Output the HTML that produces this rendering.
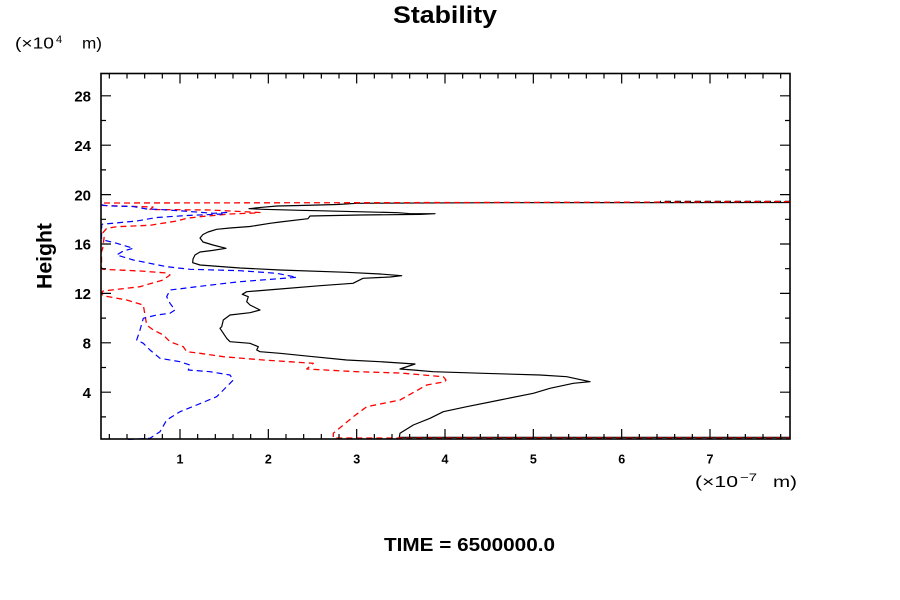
<!DOCTYPE html>
<html>
<head>
<meta charset="utf-8">
<style>
html,body{margin:0;padding:0;background:#fff;}
svg{display:block;}
text{font-family:"Liberation Sans",Arial,sans-serif;fill:#000;}
</style>
</head>
<body>
<svg width="900" height="600" viewBox="0 0 900 600" xmlns="http://www.w3.org/2000/svg">
<rect x="0" y="0" width="900" height="600" fill="#fff"/>

<!-- Title -->
<text x="393" y="23" font-size="24" font-weight="bold" textLength="104" lengthAdjust="spacingAndGlyphs">Stability</text>

<!-- y unit -->
<text x="15" y="48.5" font-size="16" textLength="39" lengthAdjust="spacingAndGlyphs">(×10</text>
<text x="56" y="43" font-size="11">4</text>
<text x="82" y="48.5" font-size="16" textLength="20" lengthAdjust="spacingAndGlyphs">m)</text>

<!-- x unit -->
<text x="695" y="487" font-size="16" textLength="43" lengthAdjust="spacingAndGlyphs">(×10</text>
<text x="740" y="481" font-size="11" textLength="17" lengthAdjust="spacingAndGlyphs">−7</text>
<text x="773" y="487" font-size="16" textLength="24" lengthAdjust="spacingAndGlyphs">m)</text>

<!-- Height label -->
<text transform="translate(51.5,289) rotate(-90)" x="0" y="0" font-size="21" font-weight="bold" textLength="66" lengthAdjust="spacingAndGlyphs">Height</text>

<!-- TIME -->
<text x="384" y="551" font-size="18" font-weight="bold" textLength="171" lengthAdjust="spacingAndGlyphs">TIME = 6500000.0</text>

<!-- y tick labels -->
<g font-size="15" font-weight="bold" text-anchor="end">
<text x="91" y="101.5">28</text>
<text x="91" y="150.9">24</text>
<text x="91" y="200.3">20</text>
<text x="91" y="249.7">16</text>
<text x="91" y="299.1">12</text>
<text x="91" y="348.5">8</text>
<text x="91" y="397.9">4</text>
</g>

<!-- x tick labels -->
<g font-size="12.5" font-weight="bold" text-anchor="middle">
<text x="180" y="463.5">1</text>
<text x="268.33" y="463.5">2</text>
<text x="356.67" y="463.5">3</text>
<text x="445" y="463.5">4</text>
<text x="533.33" y="463.5">5</text>
<text x="621.67" y="463.5">6</text>
<text x="710" y="463.5">7</text>
</g>

<!-- curves -->
<g fill="none" stroke-linejoin="round">
<!-- black solid -->
<polyline stroke="#000" stroke-width="1.2" points="790,202.5 500,202.7 357,203.3 337,204.5 300,205.5 277,206 262,207.3 249,208.7 263,209.3 300,210.3 317,210.7 357,211.7 398,212.7 410,213.7 435,213.7 420,214.4 360,215 310,216 308,218.7 280,222 270,223.3 250,226.5 230,228 216.7,229.3 208,232 203,234.5 200,238 203,242 213,245 226,248.3 212,250.5 200,252 195,255 193,259 192.7,262.7 200,265 240,268 280,270 346.7,272.3 380,274 401.7,275.7 390,277 363,278.3 353,283.3 320,285.7 280,289 246.7,291.7 242.3,294.3 248.3,296.7 246.7,301.7 250,305 260,310 250,312.7 230,315 223.3,320 221.7,326.7 220,328.3 226.7,338.3 230,341.7 250,343.3 258.3,346.7 256.7,350 260,351.7 280,353.3 313.3,356.7 346.7,360 380,361.7 415,364 400,369 413.3,370 433,371.7 483.3,373.3 540,375 566.7,376.7 590,381.7 573.3,383.3 550,388.3 533.3,393.3 500,400 466.7,406.7 443.3,411.7 430,418.3 413.3,425 400,433.3 399.3,437.3 790,437.3"/>
<!-- black dashed top-right -->
<polyline stroke="#000" stroke-width="1.2" stroke-dasharray="6 4" stroke-dashoffset="5" points="660,201.4 790,201.4"/>

<!-- red dashed -->
<polyline stroke="#f00" stroke-width="1.3" stroke-dasharray="6 4" points="790,201.6 623,202.2 357,202.7 101.5,203 103,205.5 153,207 150,209.5 210,210 230,211 260,212.5 256.7,212.9 230,214 200,216.7 186.7,218.3 176.7,221 150,225.3 117,226.7 106.7,228.3 103,232.7 104.3,236 102.7,248.3 101.5,251.7 101.5,268 103,269.3 140,271 166.7,273 170,275 163,280 140,286.7 103,291 101.5,293.5 103,295.7 126.7,300 143.3,305 145,315 146.7,325 153.3,330 163.3,335 170,341.7 183.3,346.7 186.7,351.7 200,353.3 223.3,356.7 263.3,360 313.3,363.3 306.7,369 356.7,371.7 400,373 443.3,376.7 446,380 445,381.7 426.7,385 400,400 366.7,406.7 353.3,416.7 333.3,433.3 333.3,438 790,438"/>

<!-- blue dashed -->
<polyline stroke="#00f" stroke-width="1.2" stroke-dasharray="6 4" points="101.5,205 110,206 133,206.5 146.7,209 160,209.5 183,211 213.3,213.3 226.7,212.5 223,214 186.7,215.5 156.7,217.5 136.7,221 101.7,224.3 101.5,238 103.3,240 116.7,243.3 133.3,248.3 123.3,251 116.7,255 133.3,260 166.7,266.7 190,269.3 240,270.7 276.7,273.3 296.7,277.3 240,281.7 206.7,285.5 170,290 166.7,296.7 170,303.3 175,310 170,313.3 156.7,315 143.3,318.3 140,330 136.7,340 143.3,343.3 150,350 160,358.3 180,361.7 190,365 188.3,370 210,371.7 230,375 233.3,380 216.7,396.7 196.7,405 180,411.7 166.7,420 160,431.7 150,438.3 126.7,439.5"/>
</g>

<!-- frame -->
<rect x="101" y="73.5" width="689" height="365.5" fill="none" stroke="#000" stroke-width="1.6"/>

<!-- ticks -->
<path fill="none" stroke="#000" stroke-width="1.2" d="
M109.33 439V434M127 439V434M144.67 439V434M162.33 439V434M197.67 439V434M215.33 439V434M233 439V434M250.67 439V434M286 439V434M303.67 439V434M321.33 439V434M339 439V434M374.33 439V434M392 439V434M409.67 439V434M427.33 439V434M462.67 439V434M480.33 439V434M498 439V434M515.67 439V434M551 439V434M568.67 439V434M586.33 439V434M604 439V434M639.33 439V434M657 439V434M674.67 439V434M692.33 439V434M727.67 439V434M745.33 439V434M763 439V434M780.67 439V434
M180 439V429M268.33 439V429M356.67 439V429M445 439V429M533.33 439V429M621.67 439V429M710 439V429
M109.33 73.5V78.5M127 73.5V78.5M144.67 73.5V78.5M162.33 73.5V78.5M197.67 73.5V78.5M215.33 73.5V78.5M233 73.5V78.5M250.67 73.5V78.5M286 73.5V78.5M303.67 73.5V78.5M321.33 73.5V78.5M339 73.5V78.5M374.33 73.5V78.5M392 73.5V78.5M409.67 73.5V78.5M427.33 73.5V78.5M462.67 73.5V78.5M480.33 73.5V78.5M498 73.5V78.5M515.67 73.5V78.5M551 73.5V78.5M568.67 73.5V78.5M586.33 73.5V78.5M604 73.5V78.5M639.33 73.5V78.5M657 73.5V78.5M674.67 73.5V78.5M692.33 73.5V78.5M727.67 73.5V78.5M745.33 73.5V78.5M763 73.5V78.5M780.67 73.5V78.5
M180 73.5V83.5M268.33 73.5V83.5M356.67 73.5V83.5M445 73.5V83.5M533.33 73.5V83.5M621.67 73.5V83.5M710 73.5V83.5
M101 392.2H111M101 342.8H111M101 293.4H111M101 244H111M101 194.6H111M101 145.2H111M101 95.8H111
M101 416.9H106M101 367.5H106M101 318.1H106M101 268.7H106M101 219.3H106M101 169.9H106M101 120.5H106
M790 392.2H780M790 342.8H780M790 293.4H780M790 244H780M790 194.6H780M790 145.2H780M790 95.8H780
M790 416.9H785M790 367.5H785M790 318.1H785M790 268.7H785M790 219.3H785M790 169.9H785M790 120.5H785
"/>
</svg>
</body>
</html>
